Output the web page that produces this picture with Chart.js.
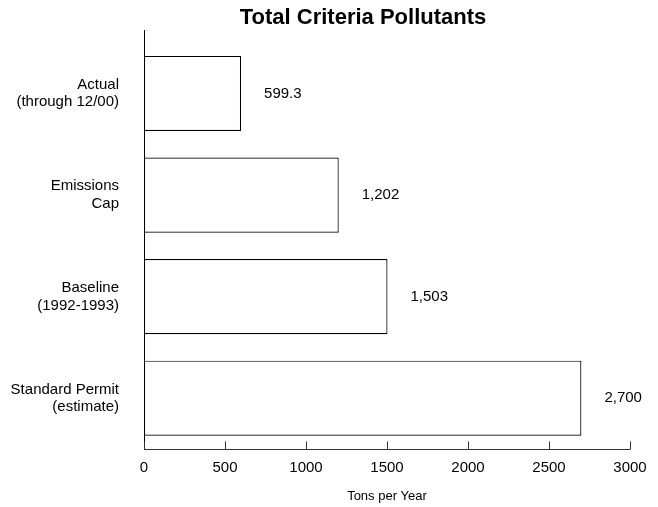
<!DOCTYPE html>
<html>
<head>
<meta charset="utf-8">
<script src="https://cdn.jsdelivr.net/npm/chart.js@4"></script>
<style>
  html, body { margin: 0; padding: 0; background: #fff; }
  #wrap { width: 658px; height: 507px; }
</style>
</head>
<body>
<div id="wrap"><canvas id="chart" width="658" height="507"></canvas></div>
<script>
// chart data
const categories = [
  ['Actual', '(through 12/00)'],
  ['Emissions', 'Cap'],
  ['Baseline', '(1992-1993)'],
  ['Standard Permit', '(estimate)']
];
const tonsPerYear = [599.3, 1202, 1503, 2700];
const valueLabels = ['599.3', '1,202', '1,503', '2,700'];
const xTicks = [0, 500, 1000, 1500, 2000, 2500, 3000];

const FONT = "'Liberation Sans', Arial, Helvetica, sans-serif";

// draws the title, axis lines, inward x ticks and the value labels
const decorations = {
  id: 'decorations',
  afterDraw(chart) {
    const ctx = chart.ctx;
    const x = chart.scales.x;
    const area = chart.chartArea;
    ctx.save();

    // title
    ctx.fillStyle = '#000';
    ctx.font = 'bold 22px ' + FONT;
    ctx.textAlign = 'center';
    ctx.textBaseline = 'middle';
    ctx.fillText('Total Criteria Pollutants', 363, 18);

    // y axis line (runs a little above the bars)
    ctx.strokeStyle = '#000';
    ctx.lineWidth = 1;
    ctx.beginPath();
    ctx.moveTo(Math.round(area.left) + 0.5, 30);
    ctx.lineTo(Math.round(area.left) + 0.5, Math.round(area.bottom));
    ctx.stroke();

    // x axis line with upward ticks
    const yAxis = Math.round(area.bottom) + 0.5;
    ctx.strokeStyle = '#333';
    ctx.beginPath();
    ctx.moveTo(x.getPixelForValue(xTicks[0]), yAxis);
    ctx.lineTo(x.getPixelForValue(xTicks[xTicks.length - 1]), yAxis);
    xTicks.forEach(v => {
      const px = Math.round(x.getPixelForValue(v)) + 0.5;
      ctx.moveTo(px, yAxis);
      ctx.lineTo(px, yAxis - 8);
    });
    ctx.stroke();

    // value labels to the right of each bar
    ctx.fillStyle = '#000';
    ctx.font = '15px ' + FONT;
    ctx.textAlign = 'left';
    ctx.textBaseline = 'middle';
    chart.getDatasetMeta(0).data.forEach((bar, i) => {
      ctx.fillText(valueLabels[i], bar.x + 23, bar.y);
    });
    ctx.restore();
  }
};

new Chart(document.getElementById('chart'), {
  type: 'bar',
  data: {
    labels: categories,
    datasets: [{
      data: tonsPerYear,
      backgroundColor: '#fff',
      borderColor: '#000',
      borderWidth: 1.2,
      borderSkipped: false,
      barPercentage: 0.74,
      categoryPercentage: 1
    }]
  },
  options: {
    indexAxis: 'y',
    responsive: false,
    animation: false,
    layout: { padding: { top: 37, right: 28, bottom: 0, left: 0 } },
    plugins: {
      legend: { display: false },
      title: { display: false },
      tooltip: { enabled: false }
    },
    scales: {
      x: {
        min: 0,
        max: 3000,
        afterFit(scale) { scale.height = 58; },
        afterBuildTicks(scale) { scale.ticks = xTicks.map(v => ({ value: v })); },
        grid: { display: false, drawTicks: false },
        border: { display: false },
        ticks: {
          color: '#000',
          font: { family: FONT, size: 15 },
          padding: 10,
          callback: v => String(v)
        },
        title: {
          display: true,
          text: 'Tons per Year',
          color: '#000',
          font: { family: FONT, size: 13 },
          padding: { top: 3, bottom: 3 }
        }
      },
      y: {
        afterFit(scale) { scale.width = 144; },
        grid: { display: false, drawTicks: false },
        border: { display: false },
        ticks: { color: '#000', font: { family: FONT, size: 15, lineHeight: 1.18 }, padding: 25 }
      }
    }
  },
  plugins: [decorations]
});
</script>
</body>
</html>
